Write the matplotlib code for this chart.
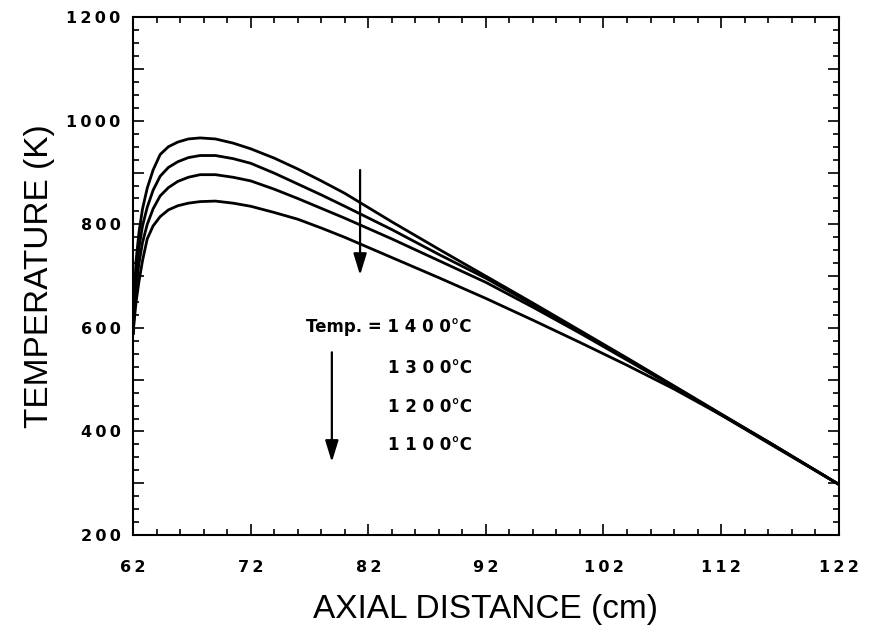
import matplotlib
matplotlib.use('Agg')
import matplotlib.pyplot as plt

# axial distance (cm) and gas temperature (K) for the four wall temperatures
x = [62.0, 62.1, 62.25, 62.5, 62.8, 63.2, 63.7, 64.3, 65.0, 65.8, 66.7, 67.7,
     69.0, 70.5, 72.0, 74.0, 76.0, 78.0, 80.0, 84.0, 88.0, 92.0, 96.0,
     100.0, 104.0, 108.0, 112.0, 116.0, 122.0]

T_1400 = [590, 660, 730, 785, 830, 870, 905, 935, 950, 959, 965, 967,
          965, 957, 946, 928, 907, 884, 860, 805, 752, 700, 648,
          595, 542, 488, 434, 380, 298]
T_1300 = [590, 645, 705, 755, 797, 833, 866, 893, 910, 921, 929, 933,
          933, 927, 918, 899, 878, 857, 835, 790, 742, 696, 645,
          592, 540, 487, 433, 380, 298]
T_1200 = [590, 630, 680, 725, 765, 800, 830, 855, 871, 883, 891, 896,
          896, 891, 884, 868, 850, 831, 812, 772, 730, 688, 640,
          590, 538, 486, 432, 380, 298]
T_1100 = [590, 615, 650, 690, 730, 772, 797, 815, 828, 836, 841, 844,
          845, 841, 835, 823, 810, 793, 775, 736, 697, 657, 615,
          572, 528, 482, 432, 378, 298]

labels = ['Temp. = 1 4 0 0°C', '1 3 0 0°C', '1 2 0 0°C', '1 1 0 0°C']
label_y = [601, 522, 447, 374]
label_x = 90.8

# arrows: (x, y_start, y_end)
arrow_top = (81.3, 905, 702)
arrow_low = (78.9, 553, 341)

x_ticks = [62, 72, 82, 92, 102, 112, 122]
y_ticks = [200, 400, 600, 800, 1000, 1200]
thin = '\u2009'

fig, ax = plt.subplots(figsize=(8.7, 6.4), dpi=100)
fig.subplots_adjust(left=0.153, right=0.964, bottom=0.164, top=0.973)

for T in [T_1400, T_1300, T_1200, T_1100]:
    ax.plot(x, T, color='black', lw=2.0, solid_joinstyle='round')

for xa, y0, y1 in [arrow_top, arrow_low]:
    ax.annotate('', xy=(xa, y1), xytext=(xa, y0),
                arrowprops=dict(arrowstyle='-|>,head_length=1.3,head_width=0.4',
                                color='black', lw=1.6, shrinkA=0, shrinkB=0))

for lab, ly in zip(labels, label_y):
    ax.text(label_x, ly, lab, ha='right', va='center', fontsize=12,
            fontweight='bold', family='DejaVu Sans')

ax.set_xlim(62, 122)
ax.set_ylim(200, 1200)
ax.set_xticks(x_ticks)
ax.set_xticklabels([thin.join(str(v)) for v in x_ticks])
ax.set_xticks(list(range(62, 123, 2)), minor=True)
y_major = list(range(200, 1201, 100))
ax.set_yticks(y_major)
ax.set_yticklabels([thin.join(str(v)) if v in y_ticks else '' for v in y_major])
ax.set_yticks(list(range(200, 1201, 25)), minor=True)

ax.tick_params(which='both', direction='in', top=True, right=True, width=1.2)
ax.tick_params(which='major', length=8)
ax.tick_params(which='minor', length=4)
ax.tick_params(axis='x', which='major', pad=18)
ax.tick_params(axis='y', which='major', pad=9)
for lbl in ax.get_xticklabels() + ax.get_yticklabels():
    lbl.set_fontsize(11.5)
    lbl.set_fontweight('bold')
    lbl.set_family('DejaVu Sans')

for sp in ax.spines.values():
    sp.set_linewidth(1.5)

ax.set_xlabel('AXIAL DISTANCE (cm)', fontsize=24, family='Liberation Sans', labelpad=14)
ax.set_ylabel('TEMPERATURE (K)', fontsize=24, family='Liberation Sans', labelpad=8)

fig.savefig('out.png', dpi=100)
